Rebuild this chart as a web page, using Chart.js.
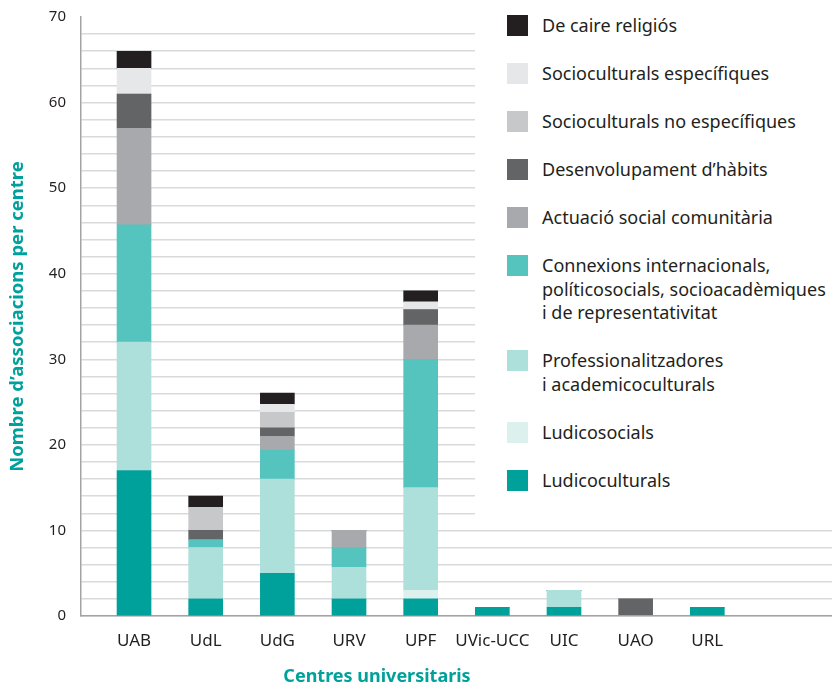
<!DOCTYPE html>
<html>
<head>
<meta charset="utf-8">
<script src="https://cdn.jsdelivr.net/npm/chart.js@4"></script>
<style>
  body { margin: 0; background: #fff; }
  #wrap { position: relative; width: 832px; height: 685px; }
  #legend {
    position: absolute; left: 475px; top: 0; width: 357px; height: 521px;
    background: #fff; box-sizing: border-box; padding-top: 14px;
    font-family: 'Noto Sans', sans-serif; font-size: 18px; color: #231f20;
  }
  .item { display: flex; align-items: flex-start; margin-left: 32px; margin-bottom: 24.5px; }
  .box { width: 21px; height: 21px; margin-top: 1px; margin-right: 14px; flex: none; }
  .txt { line-height: 23.5px; white-space: pre; }
</style>
</head>
<body>
<div id="wrap">
  <canvas id="chart" width="832" height="685"></canvas>
  <div id="legend"></div>
</div>
<script>
// centres
const categories = ['UAB', 'UdL', 'UdG', 'URV', 'UPF', 'UVic-UCC', 'UIC', 'UAO', 'URL'];

// series, bottom of the stack first
const ludicoculturals   = [17, 2, 5, 2, 2, 1, 1, 0, 1];
const ludicosocials     = [0, 0, 0, 0, 1, 0, 0, 0, 0];
const professionals     = [15, 6, 11, 3.7, 12, 0, 2, 0, 0];
const connexions        = [13.7, 0.9, 3.4, 2.3, 15, 0, 0, 0, 0];
const actuacioSocial    = [11.3, 0, 1.6, 2, 4, 0, 0, 0, 0];
const desenvolupament   = [4, 1.1, 1, 0, 1.8, 0, 0, 2, 0];
const socioNoEspecif    = [0, 2.7, 1.8, 0, 0, 0, 0, 0, 0];
const socioEspecif      = [3, 0, 0.95, 0, 0.9, 0, 0, 0, 0];
const religios          = [2, 1.3, 1.3, 0, 1.3, 0, 0, 0, 0];

const seriesNames = [
  'Ludicoculturals',
  'Ludicosocials',
  'Professionalitzadores\ni academicoculturals',
  'Connexions internacionals,\npolíticosocials, socioacadèmiques\ni de representativitat',
  'Actuació social comunitària',
  'Desenvolupament d’hàbits',
  'Socioculturals no específiques',
  'Socioculturals específiques',
  'De caire religiós'
];
const seriesValues = [ludicoculturals, ludicosocials, professionals, connexions,
  actuacioSocial, desenvolupament, socioNoEspecif, socioEspecif, religios];
const seriesColors = ['#00a19a', '#dcf0ee', '#addfdb', '#55c3be', '#a7a9ac',
  '#636466', '#c7c8ca', '#e6e7e8', '#231f20'];

const yTicks = [0, 10, 20, 30, 40, 50, 60, 70];
const yGridStep = 2;
const yTitle = 'Nombre d’associacions per centre';
const xTitle = 'Centres universitaris';

const datasets = seriesValues.map((vals, k) => ({
  label: seriesNames[k].replace(/\n/g, ' '),
  data: vals.map((v, i) => ({ x: i, y: v })),
  backgroundColor: seriesColors[k],
  borderWidth: 0,
  barThickness: 34
}));

// x axis title sits left of the axis centre in the original
const xTitlePlugin = {
  id: 'xTitle',
  afterDraw(chart) {
    const c = chart.ctx;
    c.save();
    c.font = 'bold 18px "Noto Sans"';
    c.fillStyle = '#00a19a';
    c.textAlign = 'center';
    c.textBaseline = 'middle';
    c.fillText(xTitle, 377, 677);
    c.restore();
  }
};

const chart = new Chart(document.getElementById('chart'), {
  type: 'bar',
  data: { datasets: datasets },
  plugins: [xTitlePlugin],
  options: {
    responsive: false,
    animation: false,
    layout: { padding: { top: 17, right: 0, left: 0, bottom: 0 } },
    plugins: { legend: { display: false }, tooltip: { enabled: false } },
    scales: {
      x: {
        type: 'linear',
        stacked: true,
        offset: false,
        min: -0.74,
        max: 9.74,
        afterBuildTicks: (s) => { s.ticks = categories.map((c, i) => ({ value: i })); },
        afterFit: (s) => { s.height = 69; },
        grid: { display: false, offset: false },
        border: { color: '#a3a3a3', width: 1.5 },
        ticks: {
          autoSkip: false,
          maxRotation: 0,
          padding: 7,
          color: '#231f20',
          font: { family: 'Noto Sans', size: 17 },
          callback: (v) => categories[v]
        }
      },
      y: {
        stacked: true,
        min: 0,
        max: 70,
        afterFit: (s) => { s.width = 81; s.paddingTop = 0; s.paddingBottom = 0; },
        afterBuildTicks: (s) => {
          const t = [];
          for (let v = 0; v <= 70; v += yGridStep) t.push({ value: v });
          s.ticks = t;
        },
        grid: {
          drawTicks: false,
          lineWidth: 1.5,
          color: (c) => (c.tick && c.tick.value === 70) ? 'rgba(0,0,0,0)' : '#d9dadb'
        },
        border: { color: '#a3a3a3', width: 1.5 },
        ticks: {
          autoSkip: false,
          padding: 15,
          color: '#231f20',
          font: { family: 'Noto Sans', size: 15 },
          callback: (v) => yTicks.includes(v) ? v : ''
        },
        title: {
          display: true,
          text: yTitle,
          color: '#00a19a',
          padding: { top: 7, bottom: 0 },
          font: { family: 'Noto Sans', size: 18.5, weight: 'bold' }
        }
      }
    }
  }
});

// legend, top of the stack first
const legend = document.getElementById('legend');
chart.data.datasets.slice().reverse().forEach((ds) => {
  const k = chart.data.datasets.indexOf(ds);
  const item = document.createElement('div');
  item.className = 'item';
  const box = document.createElement('div');
  box.className = 'box';
  box.style.background = ds.backgroundColor;
  const txt = document.createElement('div');
  txt.className = 'txt';
  txt.textContent = seriesNames[k];
  item.appendChild(box);
  item.appendChild(txt);
  legend.appendChild(item);
});
</script>
</body>
</html>
